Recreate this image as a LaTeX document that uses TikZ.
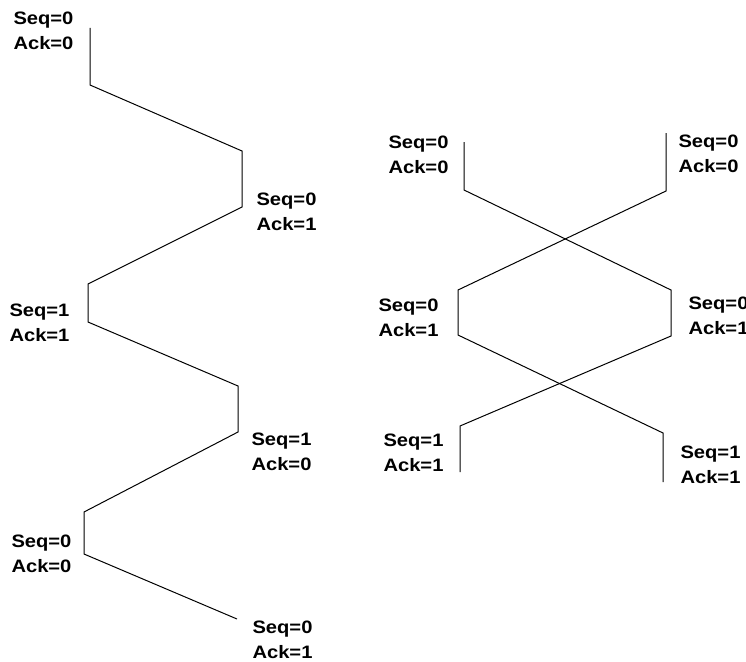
\documentclass[tikz,border=0pt]{standalone}
\usepackage{fontspec}
\setmainfont{Liberation Sans}
\newfontfamily\lblfont[FakeStretch=1.12]{Liberation Sans Bold}
\usetikzlibrary{positioning}

\begin{document}
\begin{tikzpicture}[x=1pt, y=-1pt, line width=1pt,
    lbl/.style={anchor=west, align=left, inner sep=0pt,
      font=\lblfont\fontsize{18}{25}\selectfont}]
  \useasboundingbox (0,0) rectangle (746,661);
  % left exchange
  \coordinate (a0) at (90,28);  \coordinate (a1) at (90,85);
  \coordinate (b0) at (242,151); \coordinate (b1) at (242,207);
  \coordinate (c0) at (88,284);  \coordinate (c1) at (88,322);
  \coordinate (d0) at (238,386); \coordinate (d1) at (238,432);
  \coordinate (e0) at (84,512);  \coordinate (e1) at (84,554);
  \coordinate (f0) at (237,619);
  \draw (a0) -- (a1) -- (b0) -- (b1) -- (c0) -- (c1) -- (d0) -- (d1)
        -- (e0) -- (e1) -- (f0);
  \node[lbl] (la) at (13,31)  {Seq=0\\Ack=0};
  \node[lbl] (lb) at (256,212) {Seq=0\\Ack=1};
  \node[lbl] (lc) at (9,323)  {Seq=1\\Ack=1};
  \node[lbl] (ld) at (251,452) {Seq=1\\Ack=0};
  \node[lbl] (le) at (11,554) {Seq=0\\Ack=0};
  \node[lbl] (lf) at (252,640) {Seq=0\\Ack=1};
  % right exchange, crossing
  \coordinate (p0) at (464,142); \coordinate (p1) at (464,190);
  \coordinate (p2) at (671,290); \coordinate (p3) at (671,336);
  \coordinate (p4) at (460,426); \coordinate (p5) at (460,472);
  \coordinate (q0) at (666,133); \coordinate (q1) at (666,191);
  \coordinate (q2) at (458,290); \coordinate (q3) at (458,335);
  \coordinate (q4) at (663,433); \coordinate (q5) at (663,482);
  \draw (p0) -- (p1) -- (p2) -- (p3) -- (p4) -- (p5);
  \draw (q0) -- (q1) -- (q2) -- (q3) -- (q4) -- (q5);
  \node[lbl] (ra) at (388,155) {Seq=0\\Ack=0};
  \node[lbl] (rb) at (678,154) {Seq=0\\Ack=0};
  \node[lbl] (rc) at (378,318) {Seq=0\\Ack=1};
  \node[lbl] (rd) at (688,316) {Seq=0\\Ack=1};
  \node[lbl] (re) at (383,453) {Seq=1\\Ack=1};
  \node[lbl] (rf) at (680,465) {Seq=1\\Ack=1};
\end{tikzpicture}
\end{document}
